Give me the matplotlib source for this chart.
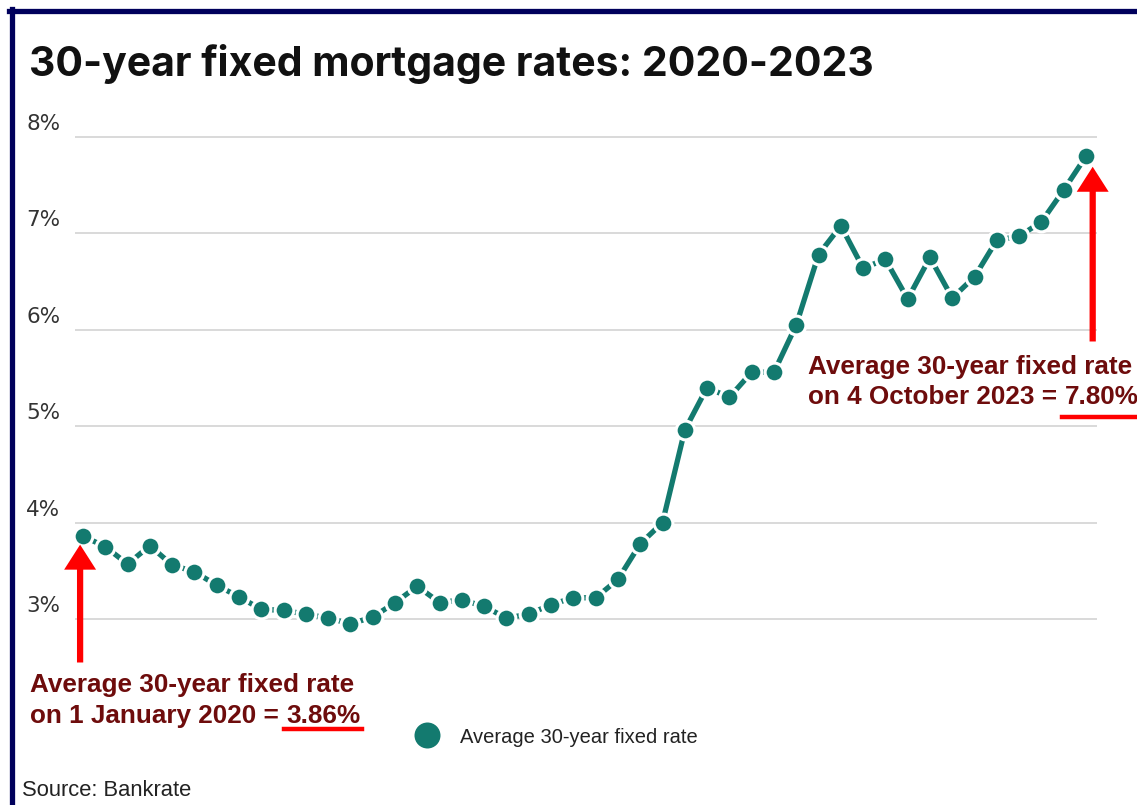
import matplotlib
matplotlib.use("Agg")
import matplotlib.pyplot as plt
from matplotlib.lines import Line2D
from matplotlib.transforms import blended_transform_factory, ScaledTranslation

# ---- data (monthly, Jan 2020 -> Oct 2023) ----
months = list(range(46))
rates = [3.86, 3.75, 3.57, 3.76, 3.56, 3.49, 3.35, 3.23, 3.10, 3.09,
         3.05, 3.01, 2.95, 3.02, 3.17, 3.34, 3.17, 3.20, 3.13, 3.01,
         3.05, 3.15, 3.22, 3.22, 3.41, 3.78, 4.00, 4.96, 5.40, 5.30,
         5.56, 5.56, 6.05, 6.78, 7.08, 6.64, 6.73, 6.32, 6.75, 6.33,
         6.55, 6.93, 6.97, 7.12, 7.45, 7.80]
y_ticks = [3, 4, 5, 6, 7, 8]
y_tick_labels = ["3%", "4%", "5%", "6%", "7%", "8%"]
series_label = "Average 30-year fixed rate"
title = "30-year fixed mortgage rates: 2020-2023"
source = "Source: Bankrate"
note_start = ["Average 30-year fixed rate", "on 1 January 2020 = ", "3.86%"]
note_end = ["Average 30-year fixed rate", "on 4 October 2023 = ", "7.80%"]

TEAL = "#137a6f"
MAROON = "#6e0c0c"
RED = "#ff0000"
NAVY = "#00005c"

W, H = 1137, 805
fig = plt.figure(figsize=(W / 100, H / 100), dpi=100)
fig.patch.set_facecolor("white")


def fx(px):
    return px / W


def fy(py):
    return 1 - py / H


ylo, yhi = 2.5, 8.2
ppu = 96.4
ax_top = 137 - (yhi - 8) * ppu
ax_bot = 619 + (3 - ylo) * ppu
ax = fig.add_axes([fx(75), fy(ax_bot), fx(1097) - fx(75), fy(ax_top) - fy(ax_bot)])
ax.set_xlim(-8 / 22.29, 45 + 11 / 22.29)
ax.set_ylim(ylo, yhi)
for s in ax.spines.values():
    s.set_visible(False)
ax.set_xticks([])
ax.set_yticks(y_ticks)
ax.set_yticklabels([])
ax.tick_params(axis="y", length=0)
ax.grid(axis="y", color="#d9d9d9", lw=1.4)
ax.set_axisbelow(True)

# y tick labels sitting above their grid lines
lab_tr = blended_transform_factory(ax.transAxes, ax.transData) + \
    ScaledTranslation(-49 / 100, 3 / 100, fig.dpi_scale_trans)
for v, s in zip(y_ticks, y_tick_labels):
    ax.text(0, v, s, transform=lab_tr, ha="left", va="bottom",
            family="DejaVu Sans", size=15.5, color="#333333")

ax.plot(months, rates, color=TEAL, lw=3.8, zorder=2, solid_capstyle="butt")
ax.plot(months, rates, "o", linestyle="none", color=TEAL, ms=13.5,
        mec="white", mew=2.2, zorder=3, label=series_label)

leg = ax.legend(loc="center left", bbox_to_anchor=(fx(389), fy(737)),
                bbox_transform=fig.transFigure, frameon=False, markerscale=1.55,
                handletextpad=0.65, prop={"family": "Liberation Sans", "size": 14.5})
for t in leg.get_texts():
    t.set_color("#222222")

# arrows
arrow_style = "simple,head_length=1.8,head_width=2.3,tail_width=0.45"
ax.annotate("", xy=(-0.13, rates[0] - 0.06), xytext=(-0.13, 2.52),
            arrowprops=dict(arrowstyle=arrow_style, color=RED, lw=0),
            annotation_clip=False, zorder=4)
ax.annotate("", xy=(45.3, rates[-1] - 0.08), xytext=(45.3, 5.85),
            arrowprops=dict(arrowstyle=arrow_style, color=RED, lw=0),
            annotation_clip=False, zorder=4)

# annotation texts
fp = dict(family="Liberation Sans", weight="bold", size=18.8, color=MAROON)
fig.canvas.draw()
renderer = fig.canvas.get_renderer()


def note(x, y1, y2, lines, uline_y):
    fig.text(fx(x), fy(y1), lines[0], va="center", ha="left", **fp)
    pre = fig.text(fx(x), fy(y2), lines[1], va="center", ha="left", **fp)
    bb = pre.get_window_extent(renderer)
    val = fig.text(bb.x1 / W, fy(y2), lines[2], va="center", ha="left", **fp)
    vb = val.get_window_extent(renderer)
    fig.add_artist(Line2D([vb.x0 / W - 0.002, vb.x1 / W + 0.001],
                          [fy(uline_y), fy(uline_y)], color=RED, lw=3.2))


note(30, 685, 716, note_start, 729)
note(808, 367, 397, note_end, 417)

# title & source
fig.text(fx(29), fy(64), title, va="center", ha="left", family="Inter",
         weight="bold", size=29.5, color="#111111")
fig.text(fx(22), fy(790), source, va="center", ha="left", family="Liberation Sans",
         size=15.8, color="#222222")

# cropped screenshot border (top & left)
fig.add_artist(Line2D([fx(9), 1.0], [fy(11.5), fy(11.5)], color=NAVY, lw=3.8))
fig.add_artist(Line2D([fx(11.5), fx(11.5)], [fy(9), 0], color=NAVY, lw=3.8))

fig.savefig("out.png", dpi=100)
